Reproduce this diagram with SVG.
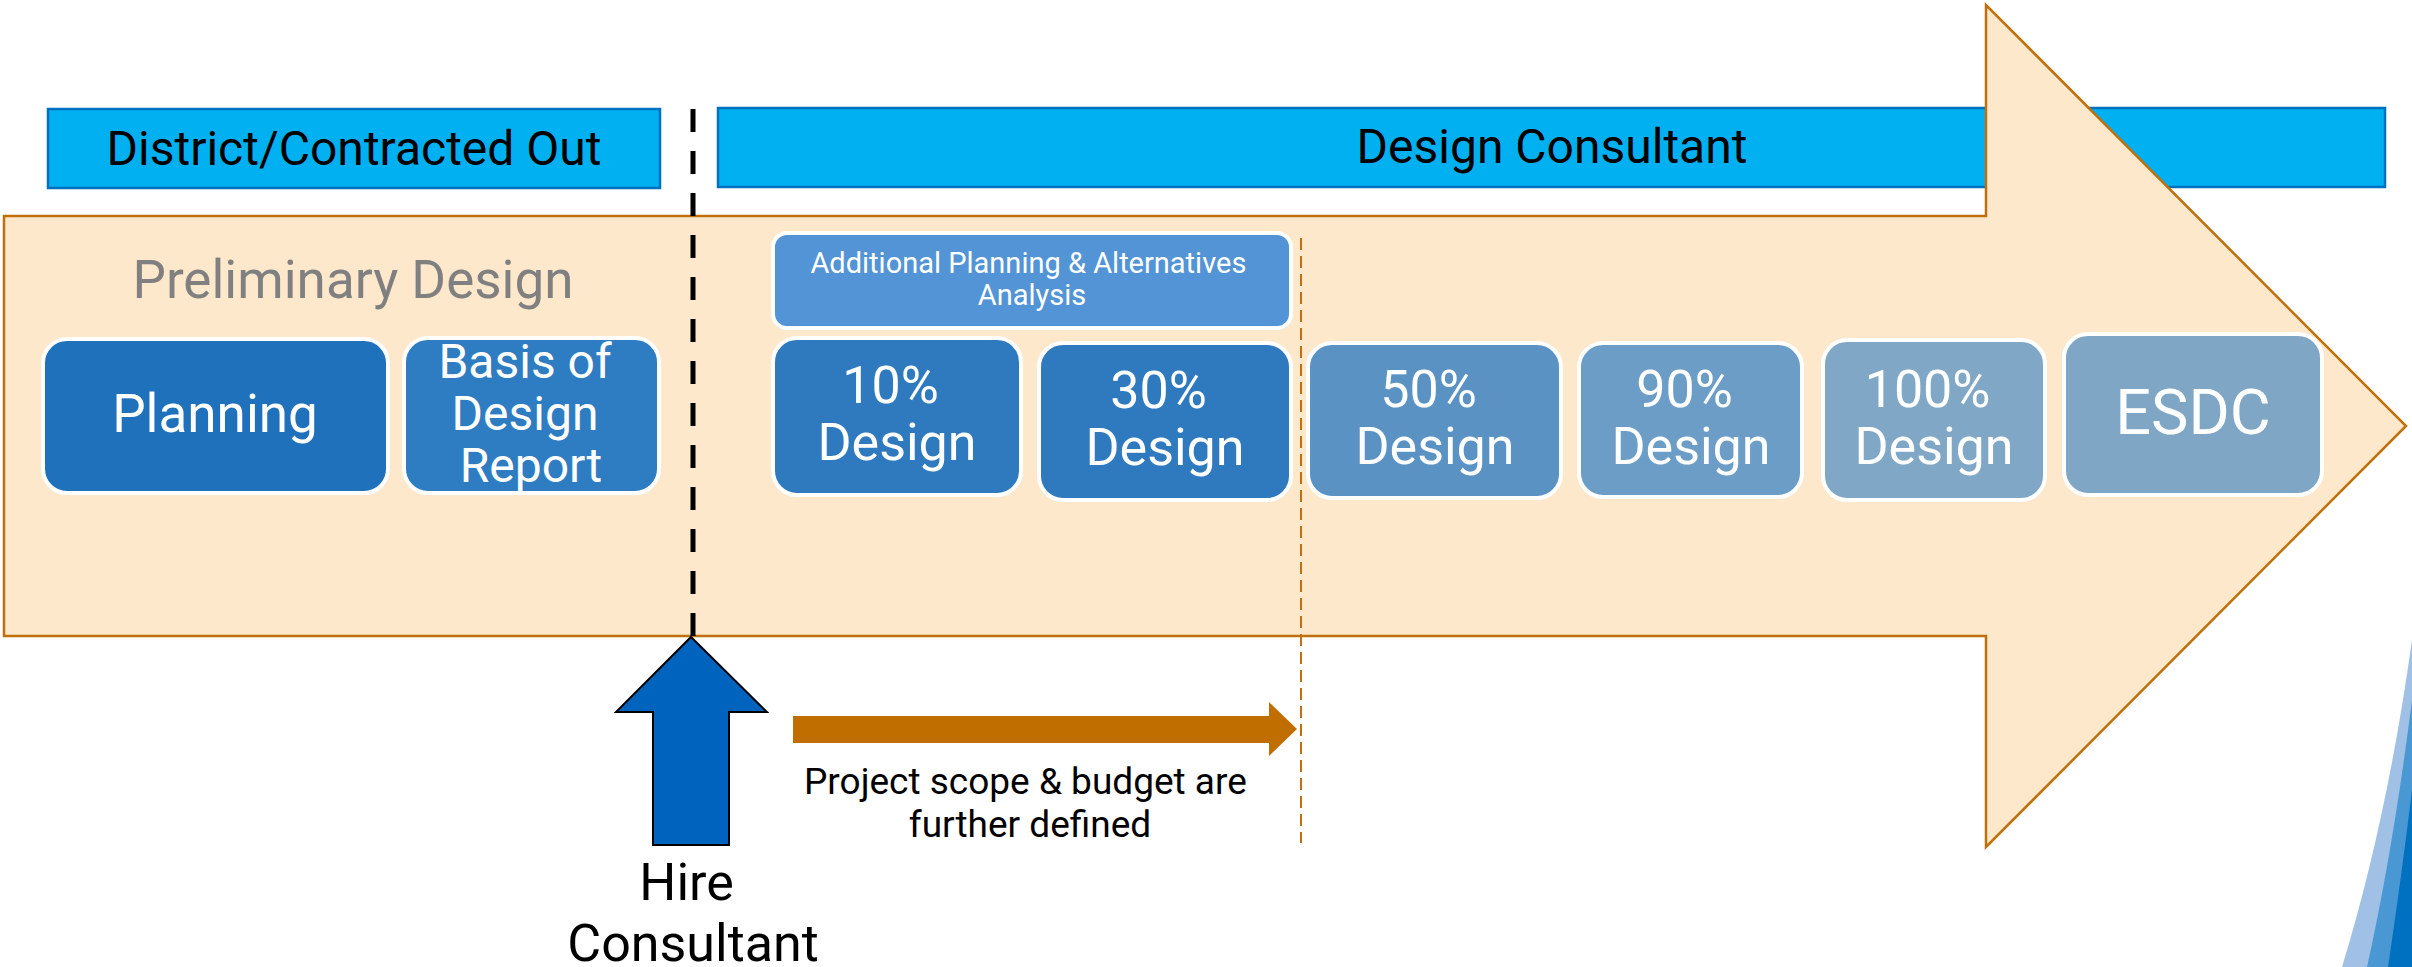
<svg xmlns="http://www.w3.org/2000/svg" width="2412" height="967" viewBox="0 0 2412 967">
  <style>
    .bar { fill: #00B0F0; stroke: #0070C0; stroke-width: 2.5; }
    .bar-label { font-family: Roboto, "Liberation Sans", sans-serif; font-size: 48px; fill: #000000; text-anchor: middle; }
    .stage { stroke: #FFFFFF; stroke-width: 4; }
    .stage-label { font-family: Roboto, "Liberation Sans", sans-serif; fill: #FFFFFF; text-anchor: middle; }
    .note { font-family: Roboto, "Liberation Sans", sans-serif; fill: #000000; text-anchor: middle; }
  </style>

  <!-- responsibility bars -->
  <g id="district-bar">
    <rect class="bar" x="48" y="109" width="612" height="79"/>
    <text class="bar-label" x="354" y="165">District/Contracted Out</text>
  </g>
  <g id="consultant-bar">
    <rect class="bar" x="718" y="108" width="1667" height="79"/>
    <text class="bar-label" x="1552" y="163">Design Consultant</text>
  </g>

  <!-- main process arrow -->
  <g id="process-arrow">
    <polygon points="4,216 1986,216 1986,5 2406,426 1986,847 1986,636 4,636" fill="#FDE8CC" stroke="#C0700A" stroke-width="2.5" stroke-linejoin="miter"/>
    <text x="353" y="298" font-family="Roboto, 'Liberation Sans', sans-serif" font-size="53" fill="#808080" text-anchor="middle">Preliminary Design</text>
  </g>

  <!-- corner decoration -->
  <g id="corner-swoosh">
    <path d="M2412,640 Q2387,820 2342,967 L2412,967 Z" fill="#A0C0E6"/>
    <path d="M2412,700 Q2393,850 2367,967 L2412,967 Z" fill="#4A98D3"/>
    <path d="M2412,790 Q2401,880 2388,967 L2412,967 Z" fill="#0070C0"/>
  </g>

  <!-- stages -->
  <g id="planning">
    <rect class="stage" x="43" y="339" width="345" height="154" rx="24" fill="#1F71BC"/>
    <text class="stage-label" x="215" y="432" font-size="53">Planning</text>
  </g>
  <g id="basis-of-design">
    <rect class="stage" x="404" y="338" width="255" height="155" rx="24" fill="#2E7CC1"/>
    <text class="stage-label" font-size="48">
      <tspan x="531" y="378">Basis of</tspan>
      <tspan x="531" y="430">Design</tspan>
      <tspan x="531" y="482">Report</tspan>
    </text>
  </g>
  <g id="alternatives-analysis">
    <rect class="stage" x="773" y="233" width="518" height="95" rx="14" fill="#5294D6"/>
    <text class="stage-label" font-size="29">
      <tspan x="1032" y="273">Additional Planning &amp; Alternatives</tspan>
      <tspan x="1032" y="305">Analysis</tspan>
    </text>
  </g>
  <g id="design-10">
    <rect class="stage" x="773" y="338" width="248" height="157" rx="24" fill="#2F7ABF"/>
    <text class="stage-label" font-size="52">
      <tspan x="897" y="403">10%</tspan>
      <tspan x="897" y="460">Design</tspan>
    </text>
  </g>
  <g id="design-30">
    <rect class="stage" x="1039" y="343" width="252" height="157" rx="24" fill="#2F7ABE"/>
    <text class="stage-label" font-size="52">
      <tspan x="1165" y="408">30%</tspan>
      <tspan x="1165" y="465">Design</tspan>
    </text>
  </g>
  <g id="design-50">
    <rect class="stage" x="1308" y="343" width="253" height="155" rx="24" fill="#5A92C3"/>
    <text class="stage-label" font-size="52">
      <tspan x="1435" y="407">50%</tspan>
      <tspan x="1435" y="464">Design</tspan>
    </text>
  </g>
  <g id="design-90">
    <rect class="stage" x="1579" y="343" width="223" height="154" rx="24" fill="#6C9DC6"/>
    <text class="stage-label" font-size="52">
      <tspan x="1691" y="407">90%</tspan>
      <tspan x="1691" y="464">Design</tspan>
    </text>
  </g>
  <g id="design-100">
    <rect class="stage" x="1823" y="340" width="222" height="160" rx="24" fill="#80A8C6"/>
    <text class="stage-label" font-size="52">
      <tspan x="1934" y="407">100%</tspan>
      <tspan x="1934" y="464">Design</tspan>
    </text>
  </g>
  <g id="esdc">
    <rect class="stage" x="2064" y="334" width="258" height="161" rx="24" fill="#7FA6C5"/>
    <text class="stage-label" x="2193" y="434" font-size="63">ESDC</text>
  </g>

  <!-- hire consultant marker -->
  <g id="hire-consultant">
    <polygon points="691,637 767,712 729,712 729,845 653,845 653,712 616,712" fill="#0063BE" stroke="#000000" stroke-width="2" stroke-linejoin="miter"/>
    <text class="note" font-size="52">
      <tspan x="693" y="900">Hire</tspan>
      <tspan x="693" y="961">Consultant</tspan>
    </text>
  </g>

  <!-- scope definition note -->
  <g id="scope-note">
    <text class="note" font-size="37">
      <tspan x="1030" y="794">Project scope &amp; budget are</tspan>
      <tspan x="1030" y="837">further defined</tspan>
    </text>
  </g>

  <!-- connectors and dividers -->
  <g id="connectors">
    <line x1="693" y1="109" x2="693" y2="636" stroke="#000000" stroke-width="5" stroke-dasharray="23,19"/>
    <line x1="1301" y1="238" x2="1301" y2="843" stroke="#C0700A" stroke-width="2" stroke-dasharray="12,6"/>
    <polygon points="793,716 1269,716 1269,702 1297,729 1269,756 1269,743 793,743" fill="#C06E00"/>
  </g>
</svg>
